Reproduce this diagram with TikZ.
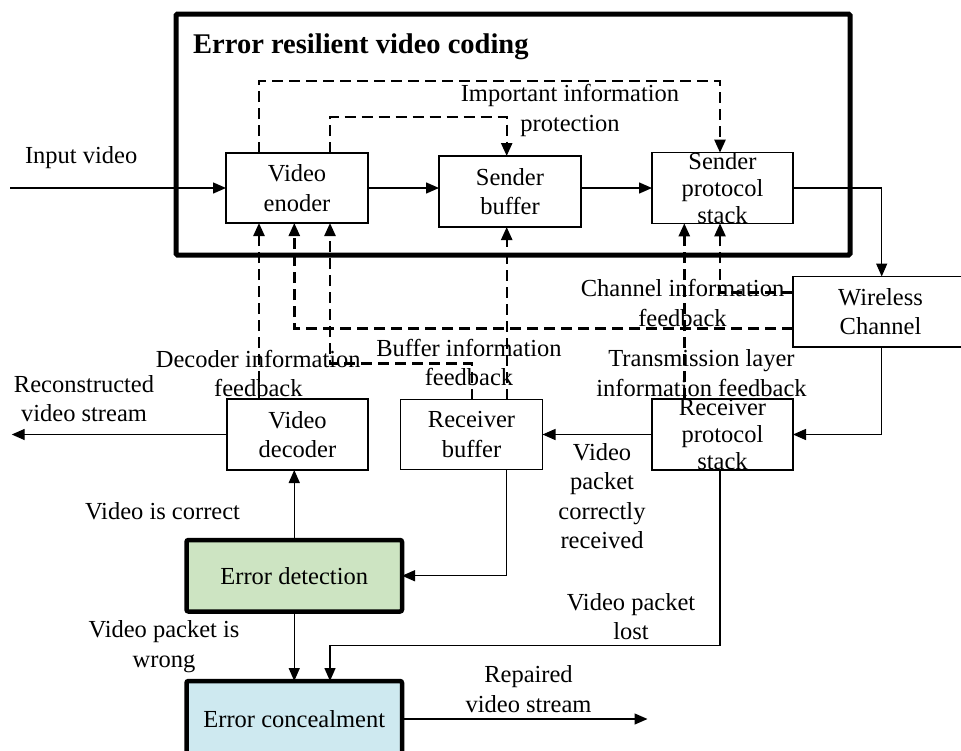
\documentclass[tikz,border=0pt]{standalone}
\usepackage{fontspec}
\setmainfont{Liberation Serif}
\usetikzlibrary{arrows.meta,calc}
\definecolor{edgreen}{RGB}{205,228,194}
\definecolor{ecblue}{RGB}{206,233,240}
\begin{document}
\begin{tikzpicture}[x=1pt,y=-1pt,
  box/.style={draw,line width=1.4pt,inner sep=0pt,outer sep=0pt,align=center,
    font=\fontsize{24.5}{29.5}\selectfont},
  tbox/.style={box,font=\fontsize{24.5}{26.7}\selectfont},
  tkbox/.style={box,line width=4.5pt,rounded corners=2pt},
  arr/.style={line width=1.4pt,-{Triangle[length=13pt,width=11pt]}},
  dsh/.style={line width=2.4pt,dash pattern=on 11pt off 6pt,-{Triangle[length=13pt,width=11pt]}},
  lbl/.style={inner sep=0pt,outer sep=0pt,font=\fontsize{24.5}{29.5}\selectfont}]
\useasboundingbox (0,0) rectangle (961,750);
\clip (0,0) rectangle (961,750);

% outer frame
\draw[line width=5pt,rounded corners=1.5pt] (176,14) rectangle (850,255);
\node[anchor=base west,inner sep=0pt,font=\fontsize{28.5}{34}\selectfont\bfseries] (title) at (193,53.3) {Error resilient video coding};

% boxes
\node[box,minimum width=142pt,minimum height=70pt] (VE) at (297,188) {Video\\enoder};
\node[box,minimum width=142pt,minimum height=71pt] (SB) at (510,191.5) {Sender\\buffer};
\node[tbox,minimum width=141pt,minimum height=70pt] (SPS) at (722.5,188) {Sender\\protocol\\stack};
\node[box,minimum width=175pt,minimum height=70.5pt] (WC) at (880.5,311.75) {Wireless\\Channel};
\node[box,minimum width=141pt,minimum height=71pt] (VD) at (297.5,434.5) {Video\\decoder};
\node[box,minimum width=142pt,minimum height=70pt] (RB) at (471.5,434.5) {Receiver\\buffer};
\node[tbox,minimum width=141pt,minimum height=71pt] (RPS) at (722.5,434.5) {Receiver\\protocol\\stack};
\node[tkbox,fill=edgreen,minimum width=215.5pt,minimum height=71.5pt] (ED) at (294.25,575.75) {Error detection};
\node[tkbox,fill=ecblue,minimum width=215.5pt,minimum height=76pt] (EC) at (294.25,719) {Error concealment};

% helper coordinates
\coordinate (xa) at (259,0);
\coordinate (xb) at (294.3,0);
\coordinate (xc) at (330,0);
\coordinate (xd) at (471.7,0);
\coordinate (xe) at (506.7,0);
\coordinate (xf) at (684.3,0);
\coordinate (xg) at (720,0);
\coordinate (xh) at (881.7,0);
\coordinate (ya) at (0,81);
\coordinate (yb) at (0,116.7);
\coordinate (yc) at (0,292.3);
\coordinate (yd) at (0,328.3);
\coordinate (ye) at (0,363.3);
\coordinate (yf) at (0,645.7);
\coordinate (inp) at (10,188);
\coordinate (recout) at (11.7,0);
\coordinate (repout) at (647.5,0);

% solid connectors
\draw[arr] (inp) -- (VE.west);
\draw[arr] (VE.east) -- (VE.east -| SB.west);
\draw[arr] (SPS.west -| SB.east) -- (SPS.west);
\draw[arr] (SPS.east) -| (WC.north -| xh);
\draw[arr] (WC.south -| xh) |- (RPS.east);
\draw[arr] (RPS.west) -- (RB.east);
\draw[arr] (RB.south -| xe) |- (ED.east);
\draw[arr] (ED.north) -- (VD.south -| ED.north);
\draw[arr] (VD.west) -- (VD.west -| recout);
\draw[arr] (ED.south) -- (EC.north);
\draw[arr] (RPS.south -| xg) -- (xg |- yf) -- (xc |- yf) -- (EC.north -| xc);
\draw[arr] (EC.east) -- (EC.east -| repout);

% dashed connectors
\draw[dsh] (VE.north -| xa) -- (xa |- ya) -- (xg |- ya) -- (SPS.north -| xg);
\draw[dsh] (VE.north -| xc) -- (xc |- yb) -- (xe |- yb) -- (SB.north -| xe);
\draw[dsh] (VD.north -| xa) -- (VE.south -| xa);
\draw[dsh] (WC.west |- yd) -- (xb |- yd) -- (VE.south -| xb);
\draw[dsh] (RB.north -| xd) -- (xd |- ye) -- (xc |- ye) -- (VE.south -| xc);
\draw[dsh] (RB.north -| xe) -- (SB.south -| xe);
\draw[dsh] (RPS.north -| xf) -- (SPS.south -| xf);
\draw[dsh] (WC.west |- yc) -- (xg |- yc) -- (SPS.south -| xg);

% labels
\node[lbl,anchor=base west] (l1) at (25,163.3) {Input video};
\node[lbl,anchor=base] (l2) at (570,101.7) {\begin{tabular}[t]{@{}c@{}}Important information\\protection\end{tabular}};
\node[lbl,anchor=base] (l3) at (682.5,296.7) {\begin{tabular}[t]{@{}c@{}}Channel information\\feedback\end{tabular}};
\node[lbl,anchor=base] (l4) at (701.5,366.7) {\begin{tabular}[t]{@{}c@{}}Transmission layer\\information feedback\end{tabular}};
\node[lbl,anchor=base] (l5) at (258.3,367.3) {\begin{tabular}[t]{@{}c@{}}Decoder information\\feedback\end{tabular}};
\node[lbl,anchor=base] (l6) at (469,356) {\begin{tabular}[t]{@{}c@{}}Buffer information\\feedback\end{tabular}};
\node[lbl,anchor=base] (l7) at (84,392) {\begin{tabular}[t]{@{}c@{}}Reconstructed\\video stream\end{tabular}};
\node[lbl,anchor=base] (l8) at (602,460) {\begin{tabular}[t]{@{}c@{}}Video\\packet\\correctly\\received\end{tabular}};
\node[lbl,anchor=base west] (l9) at (85,519.3) {Video is correct};
\node[lbl,anchor=base] (l10) at (164,637.7) {\begin{tabular}[t]{@{}c@{}}Video packet is\\wrong\end{tabular}};
\node[lbl,anchor=base] (l11) at (631,610) {\begin{tabular}[t]{@{}c@{}}Video packet\\lost\end{tabular}};
\node[lbl,anchor=base] (l12) at (528.5,682.7) {\begin{tabular}[t]{@{}c@{}}Repaired\\video stream\end{tabular}};
\end{tikzpicture}
\end{document}
